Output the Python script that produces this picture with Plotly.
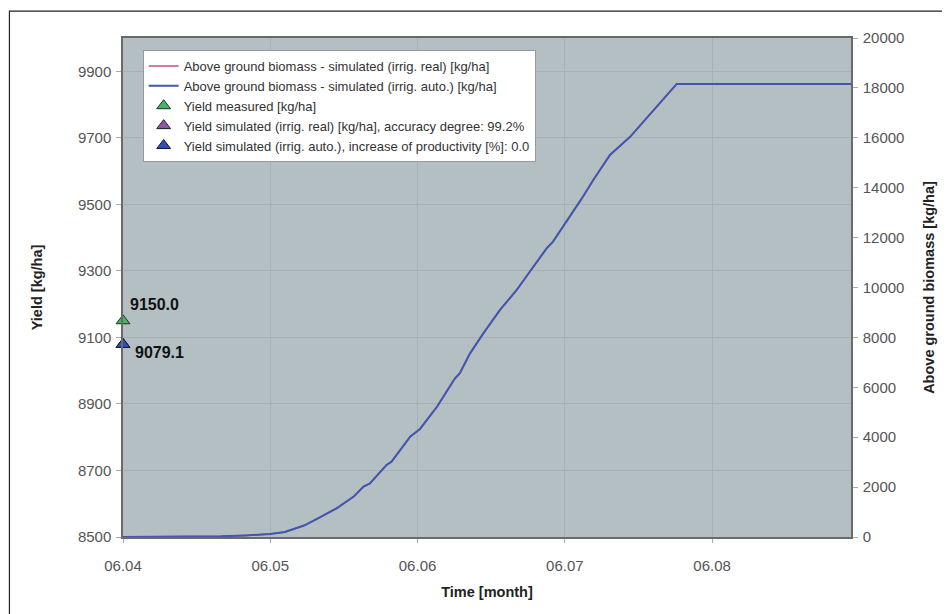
import plotly.graph_objects as go

# Time axis: days since 06.04 (day.month)
tick_days = [0, 30, 60, 90, 120]
tick_labels = ["06.04", "06.05", "06.06", "06.07", "06.08"]

# Above ground biomass (kg/ha)
days = [0, 10, 20, 25, 30, 33, 37, 40, 43.5, 47, 49, 50.3, 53.7, 54.7, 58.5, 60.5,
        64, 67.6, 68.6, 70.7, 73.4, 76.8, 80.2, 82.9, 86.3, 87.6, 90.4, 93.4, 95.8,
        99.2, 103.3, 106, 109.4, 112.8, 148.3]
biomass_real = [0, 5, 30, 65, 120, 200, 470, 780, 1150, 1620, 2020, 2150, 2890, 3020,
                4020, 4330, 5230, 6350, 6560, 7360, 8160, 9100, 9900, 10640, 11570,
                11840, 12640, 13550, 14310, 15310, 16040, 16640, 17440, 18160, 18160]
biomass_auto = list(biomass_real)

# Yields (kg/ha)
yield_day = 0
yield_measured = 9150.0
yield_sim_real = 9079.1
yield_sim_auto = 9079.1

left_ticks = [8500, 8700, 8900, 9100, 9300, 9500, 9700, 9900]
right_ticks = [0, 2000, 4000, 6000, 8000, 10000, 12000, 14000, 16000, 18000, 20000]

font_family = "Liberation Sans, Arial, sans-serif"

fig = go.Figure()

fig.add_trace(go.Scatter(
    x=days, y=biomass_real, yaxis="y2", mode="lines",
    line=dict(color="#c0508a", width=1.5),
    name="Above ground biomass - simulated (irrig. real) [kg/ha]"))
fig.add_trace(go.Scatter(
    x=days, y=biomass_auto, yaxis="y2", mode="lines",
    line=dict(color="#3f57b0", width=2),
    name="Above ground biomass - simulated (irrig. auto.) [kg/ha]"))

fig.add_trace(go.Scatter(
    x=[yield_day], y=[yield_measured], mode="markers", cliponaxis=False,
    marker=dict(symbol="triangle-up", size=12, color="#45b464",
                line=dict(color="#1e3320", width=1)),
    name="Yield measured [kg/ha]"))
fig.add_trace(go.Scatter(
    x=[yield_day], y=[yield_sim_real], mode="markers", cliponaxis=False,
    marker=dict(symbol="triangle-up", size=12, color="#8e55a8",
                line=dict(color="#221a2a", width=1)),
    name="Yield simulated (irrig. real) [kg/ha], accuracy degree: 99.2%"))
fig.add_trace(go.Scatter(
    x=[yield_day], y=[yield_sim_auto], mode="markers", cliponaxis=False,
    marker=dict(symbol="triangle-up", size=12, color="#2f4fb4",
                line=dict(color="#15193a", width=1)),
    name="Yield simulated (irrig. auto.), increase of productivity [%]: 0.0"))

fig.add_annotation(x=yield_day, y=yield_measured, text="<b>%.1f</b>" % yield_measured,
                   xref="x", yref="y", showarrow=False, xanchor="left", yanchor="middle",
                   xshift=5, yshift=16, font=dict(size=16, color="#111", family=font_family))
fig.add_annotation(x=yield_day, y=yield_sim_auto, text="<b>%.1f</b>" % yield_sim_auto,
                   xref="x", yref="y", showarrow=False, xanchor="left", yanchor="middle",
                   xshift=10, yshift=-8, font=dict(size=16, color="#111", family=font_family))

# outer frame
fig.add_shape(type="rect", xref="paper", yref="paper",
              x0=-0.156, x1=1.1305, y0=-0.2, y1=1.054,
              line=dict(color="#222", width=1.2), fillcolor="rgba(0,0,0,0)", layer="below")

fig.update_layout(
    width=942, height=606,
    margin=dict(l=115, r=99, t=30, b=77),
    paper_bgcolor="white", plot_bgcolor="#b4bfc3",
    font=dict(family=font_family, size=15, color="#444"),
    showlegend=True,
    legend=dict(x=0.027, y=0.976, xanchor="left", yanchor="top",
                bgcolor="white", bordercolor="#999", borderwidth=1,
                font=dict(size=13, color="#333", family=font_family),
                tracegroupgap=0, itemwidth=30),
    xaxis=dict(range=[0, 148.3], tickvals=tick_days, ticktext=tick_labels,
               showgrid=True, gridcolor="#a5b1b5", gridwidth=1,
               showline=True, linecolor="#6a6a6a", linewidth=1.5, mirror=True,
               ticks="outside", ticklen=4, tickcolor="#aaa", ticklabelstandoff=10,
               tickfont=dict(size=15, color="#555"),
               title=dict(text="<b>Time [month]</b>", font=dict(size=14.5, color="#222"), standoff=14),
               zeroline=False),
    yaxis=dict(range=[8500, 10000], tickvals=left_ticks, tickformat="d",
               showgrid=True, gridcolor="#a5b1b5", gridwidth=1,
               showline=True, linecolor="#6a6a6a", linewidth=1.5, mirror=True,
               ticks="outside", ticklen=5, tickcolor="#aaa", ticklabelstandoff=2,
               tickfont=dict(size=15, color="#555"),
               title=dict(text="<b>Yield [kg/ha]</b>", font=dict(size=14.5, color="#222"), standoff=32),
               zeroline=False),
    yaxis2=dict(range=[0, 20000], tickvals=right_ticks, tickformat="d",
                overlaying="y", side="right", showgrid=False,
                showline=True, linecolor="#6a6a6a", linewidth=1.5,
                ticks="outside", ticklen=5, tickcolor="#aaa", ticklabelstandoff=2,
                tickfont=dict(size=15, color="#555"),
                title=dict(text="<b>Above ground biomass [kg/ha]</b>", font=dict(size=14.5, color="#222"), standoff=20),
                zeroline=False),
)

fig.write_html("out.html")
